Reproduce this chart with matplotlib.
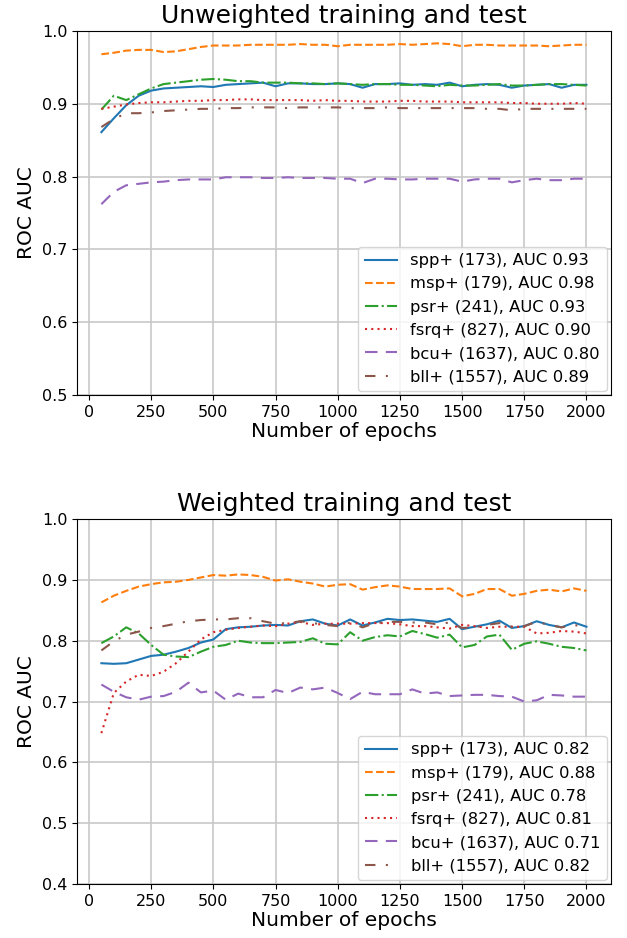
import numpy as np
import matplotlib
matplotlib.use("Agg")
import matplotlib.pyplot as plt

epochs = np.arange(50, 2001, 50)

labels_top = ["spp+ (173), AUC 0.93", "msp+ (179), AUC 0.98", "psr+ (241), AUC 0.93",
              "fsrq+ (827), AUC 0.90", "bcu+ (1637), AUC 0.80", "bll+ (1557), AUC 0.89"]
labels_bottom = ["spp+ (173), AUC 0.82", "msp+ (179), AUC 0.88", "psr+ (241), AUC 0.78",
                 "fsrq+ (827), AUC 0.81", "bcu+ (1637), AUC 0.71", "bll+ (1557), AUC 0.82"]

# unweighted training and test
spp_u = [.861, .880, .898, .911, .918, .921, .922, .923, .924, .923, .926, .927, .928, .929, .924, .928,
         .928, .927, .927, .928, .927, .922, .927, .927, .928, .926, .927, .926, .929, .924, .926, .927,
         .926, .922, .925, .926, .927, .922, .926, .926]
msp_u = [.968, .970, .973, .974, .974, .971, .972, .975, .978, .980, .980, .980, .981, .981, .981, .981,
         .982, .981, .981, .979, .981, .981, .981, .981, .982, .981, .982, .983, .982, .979, .981, .981,
         .980, .980, .980, .980, .979, .980, .981, .981]
psr_u = [.892, .911, .905, .913, .921, .927, .929, .931, .933, .934, .933, .931, .931, .929, .929, .929,
         .928, .928, .927, .928, .927, .926, .927, .927, .926, .926, .925, .924, .926, .925, .925, .926,
         .927, .925, .925, .926, .927, .927, .926, .925]
fsrq_u = [.893, .896, .899, .901, .902, .902, .903, .904, .904, .905, .905, .906, .906, .905, .905, .905,
          .905, .904, .905, .904, .904, .903, .903, .903, .904, .904, .903, .903, .903, .902, .902, .902,
          .902, .901, .901, .900, .900, .900, .901, .900]
bcu_u = [.762, .779, .788, .790, .792, .793, .795, .796, .796, .796, .799, .799, .799, .798, .798, .799,
         .798, .798, .798, .797, .797, .791, .797, .797, .796, .796, .797, .797, .797, .793, .796, .797,
         .797, .792, .795, .797, .795, .795, .797, .797]
bll_u = [.868, .879, .887, .887, .888, .890, .891, .892, .893, .893, .894, .894, .895, .895, .895, .894,
         .895, .895, .895, .895, .894, .894, .894, .895, .894, .894, .894, .894, .894, .894, .894, .893,
         .893, .891, .893, .893, .893, .893, .893, .893]

# weighted training and test
spp_w = [.763, .762, .763, .769, .775, .777, .782, .788, .797, .802, .819, .822, .823, .825, .826, .825,
         .832, .835, .828, .825, .835, .825, .830, .836, .834, .835, .833, .831, .836, .819, .823, .827,
         .833, .821, .824, .832, .826, .822, .830, .823]
msp_w = [.863, .874, .882, .889, .893, .896, .897, .900, .904, .908, .907, .909, .908, .905, .899, .901,
         .897, .894, .889, .892, .893, .884, .888, .891, .889, .885, .885, .885, .886, .873, .877, .885,
         .885, .874, .877, .882, .884, .881, .886, .882]
psr_w = [.796, .807, .822, .812, .793, .777, .774, .773, .782, .790, .793, .800, .797, .796, .796, .797,
         .798, .804, .795, .794, .814, .800, .806, .809, .807, .816, .811, .805, .810, .789, .793, .807,
         .810, .785, .795, .799, .795, .790, .788, .784]
fsrq_w = [.648, .714, .733, .744, .742, .749, .763, .782, .802, .814, .818, .821, .823, .825, .824, .828,
          .831, .826, .828, .828, .828, .829, .829, .829, .827, .824, .824, .822, .820, .826, .824, .821,
          .823, .823, .823, .812, .813, .816, .815, .812]
bcu_w = [.728, .716, .707, .703, .708, .709, .716, .731, .715, .718, .703, .713, .707, .707, .719, .714,
         .723, .720, .723, .714, .704, .716, .712, .712, .712, .720, .713, .715, .709, .710, .711, .711,
         .709, .708, .700, .702, .711, .710, .708, .708]
bll_w = [.784, .799, .810, .815, .821, .824, .828, .832, .834, .835, .835, .837, .837, .832, .828, .829,
         .832, .829, .826, .824, .830, .822, .829, .831, .831, .830, .830, .827, .830, .821, .822, .826,
         .829, .823, .824, .831, .826, .822, .826, .822]

styles = ["-", "--", "-.", (0, (1, 2)), (0, (6, 4)), (0, (5, 5, 1, 5))]
colors = ["#1f77b4", "#ff7f0e", "#2ca02c", "#d62728", "#9467bd", "#8c564b"]


def draw(ax, series, labels, title, ylim):
    for vals, lab, ls, c in zip(series, labels, styles, colors):
        ax.plot(epochs, vals, linestyle=ls, color=c, lw=1.5, label=lab)
    ax.set_title(title, fontsize=18)
    ax.set_xlabel("Number of epochs", fontsize=14.5, labelpad=2)
    ax.set_ylabel("ROC AUC", fontsize=14.5)
    ax.set_ylim(*ylim)
    ax.set_xticks(np.arange(0, 2001, 250))
    ax.tick_params(labelsize=11.5)
    ax.grid(True, color="#c8c8c8", lw=1.2)
    ax.legend(loc="lower right", fontsize=11.8, borderaxespad=0.25)


fig = plt.figure(figsize=(6.27, 9.38), dpi=100)
ax1 = fig.add_axes([0.123, 0.579, 0.851, 0.388])
ax2 = fig.add_axes([0.123, 0.0576, 0.851, 0.389])

draw(ax1, [spp_u, msp_u, psr_u, fsrq_u, bcu_u, bll_u], labels_top,
     "Unweighted training and test", (0.5, 1.0))
draw(ax2, [spp_w, msp_w, psr_w, fsrq_w, bcu_w, bll_w], labels_bottom,
     "Weighted training and test", (0.4, 1.0))

fig.savefig("out.png", dpi=100)
